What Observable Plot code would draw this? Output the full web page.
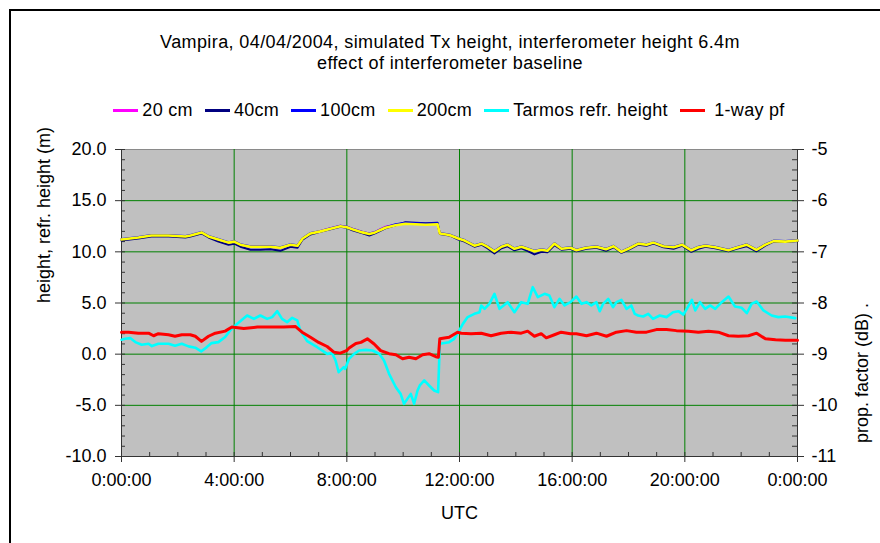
<!DOCTYPE html>
<html><head><meta charset="utf-8">
<script src="https://cdn.jsdelivr.net/npm/d3@7"></script>
<script src="https://cdn.jsdelivr.net/npm/@observablehq/plot@0.6"></script>
<style>
body{margin:0;background:#fff;font-family:"Liberation Sans",Arial,sans-serif;color:#000;}
#wrap{position:relative;width:880px;height:543px;overflow:hidden;background:#fff;}
#frame{position:absolute;left:9px;top:9px;width:950px;height:650px;border-left:2px solid #000;border-top:2px solid #000;}
.title{position:absolute;left:0;width:900px;text-align:center;font-size:18px;line-height:21px;white-space:nowrap;letter-spacing:0.4px;}
#legend{position:absolute;left:0;width:898px;top:99px;display:flex;justify-content:center;font-size:18px;line-height:22px;white-space:pre;letter-spacing:0.3px;}
.item{display:flex;align-items:center;margin:0 6px;}
.sw{width:25px;height:3px;margin-right:4px;}
#chart{position:absolute;left:0;top:130px;}
</style></head>
<body><div id="wrap"><div id="frame"></div>
<div class="title" style="top:32px">Vampira, 04/04/2004, simulated Tx height, interferometer height 6.4m</div>
<div class="title" style="top:53px">effect of interferometer baseline</div>
<div id="legend"></div>
<div id="chart"></div></div>
<script>
// ---- data ----
const seriesNames = ["20 cm", "40cm", "100cm", "200cm", "Tarmos refr. height", " 1-way pf"];
const seriesColors = ["#FF00FF", "#000080", "#0000FF", "#FFFF00", "#00FFFF", "#FF0000"];

// hours (UTC) for the four baseline series
const hBase = [0,0.6,1.06,1.67,2.27,2.45,2.84,3.09,3.44,3.8,4.0,4.22,4.58,4.93,5.29,5.64,6.0,6.25,6.43,6.71,7.06,7.42,7.77,8.0,8.2,8.56,8.8,9.0,9.37,9.73,10.08,10.44,10.8,11.22,11.3,11.64,11.96,12.18,12.53,12.78,12.99,13.24,13.49,13.7,13.95,14.2,14.41,14.66,14.91,15.12,15.37,15.62,15.94,16.15,16.5,16.86,17.2,17.47,17.75,18.03,18.35,18.64,18.89,19.24,19.6,19.9,20.23,20.48,20.73,21.08,21.55,21.83,22.19,22.54,22.86,23.15,23.57,24];
const h20cm = [11.2,11.4,11.6,11.6,11.5,11.6,11.9,11.5,11.2,10.9,11.0,10.7,10.5,10.5,10.5,10.4,10.7,10.6,11.3,11.8,12.05,12.3,12.55,12.45,12.25,11.95,11.8,11.95,12.45,12.65,12.8,12.75,12.7,12.75,11.8,11.65,11.3,11.1,10.6,10.8,10.5,10.05,10.5,10.7,10.3,10.5,10.3,10.05,10.2,10.1,10.8,10.3,10.4,10.15,10.4,10.5,10.25,10.55,10.0,10.35,10.8,10.7,10.9,10.55,10.45,10.7,10.15,10.45,10.6,10.45,10.15,10.4,10.7,10.2,10.7,11.05,11.0,11.1];
const h40cm = [11.1,11.3,11.5,11.5,11.4,11.5,11.8,11.4,11.0,10.7,10.8,10.5,10.2,10.2,10.25,10.1,10.5,10.4,11.2,11.7,11.95,12.2,12.45,12.35,12.1,11.8,11.6,11.8,12.3,12.6,12.9,12.85,12.8,12.85,11.75,11.6,11.2,11.0,10.5,10.7,10.35,9.85,10.35,10.55,10.15,10.35,10.1,9.75,10.0,9.95,10.65,10.2,10.3,10.05,10.3,10.4,10.1,10.45,9.9,10.25,10.7,10.6,10.8,10.45,10.3,10.6,10.0,10.3,10.5,10.35,10.05,10.3,10.55,10.05,10.6,11.0,10.95,11.05];
const h100cm = [11.25,11.45,11.65,11.65,11.55,11.65,11.95,11.55,11.25,10.95,11.05,10.75,10.55,10.55,10.55,10.45,10.75,10.65,11.35,11.85,12.05,12.3,12.55,12.45,12.25,11.95,11.8,11.95,12.4,12.7,12.85,12.8,12.75,12.8,11.85,11.7,11.35,11.15,10.65,10.85,10.55,10.1,10.55,10.75,10.35,10.55,10.35,10.1,10.25,10.15,10.85,10.35,10.45,10.2,10.45,10.55,10.3,10.6,10.05,10.4,10.85,10.75,10.95,10.6,10.5,10.75,10.2,10.5,10.65,10.5,10.2,10.45,10.75,10.25,10.75,11.1,11.05,11.15];
const h200cm = [11.2,11.4,11.6,11.6,11.5,11.6,11.9,11.5,11.2,10.9,11.0,10.7,10.5,10.5,10.5,10.4,10.7,10.6,11.3,11.8,12.0,12.25,12.5,12.4,12.2,11.9,11.75,11.9,12.35,12.6,12.75,12.7,12.65,12.7,11.8,11.65,11.3,11.1,10.6,10.8,10.5,10.05,10.5,10.7,10.3,10.5,10.3,10.05,10.2,10.1,10.8,10.3,10.4,10.15,10.4,10.5,10.25,10.55,10.0,10.35,10.8,10.7,10.9,10.55,10.45,10.7,10.15,10.45,10.6,10.45,10.15,10.4,10.7,10.2,10.7,11.05,11.0,11.1];

// Tarmos refractive height (m)
const hTarmos = [0,0.13,0.31,0.49,0.72,0.96,1.08,1.31,1.67,1.9,2.14,2.38,2.62,2.83,3.03,3.2,3.44,3.68,3.86,3.98,4.11,4.46,4.7,4.93,5.17,5.35,5.53,5.7,5.88,6.06,6.24,6.35,6.59,6.95,7.3,7.48,7.6,7.71,7.89,7.94,8.08,8.26,8.44,8.67,8.91,9.15,9.32,9.5,9.74,9.91,10.03,10.15,10.27,10.39,10.51,10.59,10.75,10.92,11.1,11.24,11.3,11.63,11.81,11.96,12.12,12.29,12.53,12.71,12.77,12.89,13.06,13.24,13.42,13.71,13.95,14.19,14.42,14.6,14.78,15.02,15.19,15.37,15.55,15.73,15.94,16.15,16.33,16.51,16.68,16.86,16.98,17.1,17.28,17.45,17.57,17.75,17.93,18.1,18.22,18.34,18.52,18.7,18.87,19.11,19.35,19.58,19.77,19.95,20.07,20.25,20.37,20.54,20.72,20.9,21.08,21.31,21.55,21.78,22.02,22.2,22.37,22.55,22.79,23.08,23.32,23.56,23.92];
const vTarmos = [1.41,1.5,1.57,1.18,0.92,1.02,0.79,1.02,1.02,0.82,1.02,0.76,0.63,0.27,0.69,1.08,1.18,1.67,2.32,2.64,2.97,3.78,3.45,3.78,3.45,3.62,4.2,3.45,3.13,3.55,3.3,2.31,1.27,0.68,0.03,0.1,-0.62,-1.76,-1.27,-1.43,-0.45,0.03,0.36,0.42,0.36,0.03,-0.62,-1.92,-3.23,-3.88,-4.85,-4.37,-3.88,-4.85,-3.55,-3.06,-2.57,-3.06,-3.55,-3.71,1.01,1.17,1.5,2.15,2.96,3.62,3.94,4.1,4.76,4.43,4.92,5.9,4.43,5.08,4.1,5.08,4.92,6.55,5.57,5.9,5.73,4.59,5.41,4.76,5.08,5.63,4.92,5.08,4.76,5.08,4.2,4.92,5.41,4.59,5.08,5.31,4.43,4.76,3.94,3.78,3.68,3.94,3.45,3.78,3.62,4.1,4.2,3.87,4.43,5.31,4.27,5.08,4.43,4.76,4.43,5.08,5.63,4.66,4.53,4.0,4.92,5.15,4.27,3.78,3.62,3.68,3.52];

// 1-way propagation factor (dB), right axis
const hPf = [0,0.25,0.6,0.96,1.14,1.31,1.67,1.9,2.14,2.44,2.62,2.84,3.09,3.33,3.68,3.92,4.34,4.82,5.29,5.76,6.18,6.41,6.71,7.0,7.3,7.54,7.77,7.99,8.08,8.32,8.5,8.73,8.97,9.2,9.5,9.74,9.98,10.21,10.45,10.69,10.92,11.16,11.25,11.3,11.63,11.93,12.06,12.41,12.77,13.12,13.48,13.83,14.19,14.42,14.66,14.9,15.08,15.37,15.61,15.94,16.15,16.51,16.86,17.22,17.57,17.93,18.28,18.64,18.99,19.35,19.7,20.13,20.48,20.84,21.19,21.55,21.9,22.26,22.55,22.86,23.22,23.57,24];
const vPf = [-8.57,-8.57,-8.59,-8.59,-8.64,-8.6,-8.62,-8.65,-8.62,-8.62,-8.65,-8.75,-8.65,-8.59,-8.55,-8.47,-8.5,-8.47,-8.47,-8.47,-8.46,-8.57,-8.67,-8.77,-8.85,-8.96,-8.98,-8.93,-8.88,-8.79,-8.77,-8.7,-8.8,-8.93,-8.99,-9.01,-9.09,-9.06,-9.09,-9.01,-8.99,-9.05,-9.06,-8.7,-8.67,-8.57,-8.59,-8.6,-8.59,-8.64,-8.59,-8.57,-8.59,-8.55,-8.65,-8.6,-8.68,-8.62,-8.57,-8.6,-8.6,-8.64,-8.59,-8.65,-8.57,-8.54,-8.57,-8.57,-8.52,-8.52,-8.54,-8.55,-8.57,-8.55,-8.57,-8.64,-8.65,-8.64,-8.59,-8.7,-8.72,-8.73,-8.73];

const xTicks = [0, 4, 8, 12, 16, 20, 24];
const yTicks = [-10, -5, 0, 5, 10, 15, 20];
const pfDomain = [-11, -5];
const yDomain = [-10, 20];

// ---- build ----
const leg = document.getElementById("legend");
seriesNames.forEach((n, i) => {
  const it = document.createElement("div"); it.className = "item";
  it.innerHTML = `<span class="sw" style="background:${seriesColors[i]}"></span><span>${n}</span>`;
  leg.appendChild(it);
});

const toLeft = db => yDomain[0] + (db - pfDomain[0]) * (yDomain[1] - yDomain[0]) / (pfDomain[1] - pfDomain[0]);
const toDb = v => pfDomain[0] + (v - yDomain[0]) * (pfDomain[1] - pfDomain[0]) / (yDomain[1] - yDomain[0]);

const base = [h20cm, h40cm, h100cm, h200cm].map(arr => hBase.map((h, i) => ({h, v: arr[i]})));
const tarmos = hTarmos.map((h, i) => ({h, v: vTarmos[i]}));
const pf = hPf.map((h, i) => ({h, v: toLeft(vPf[i])}));

const yMinor = d3.range(yDomain[0], yDomain[1] + 1, 1);
const xMinor = d3.range(0, 25, 1);
const plotW = 880 - 121 - 83, plotH = 413 - 19 - 87;
const font = '"Liberation Sans", Arial, sans-serif';

const chart = Plot.plot({
  width: 880, height: 413,
  marginLeft: 121, marginRight: 83, marginTop: 19, marginBottom: 87,
  x: {domain: [0, 24]},
  y: {domain: yDomain},
  style: {fontFamily: font, fontSize: "18px", color: "#000", background: "transparent", overflow: "visible"},
  marks: [
    Plot.frame({fill: "#C0C0C0", stroke: "#8a8a8a"}),
    Plot.gridX(xTicks.slice(1, -1), {stroke: "#008000", strokeOpacity: 1, strokeWidth: 1}),
    Plot.gridY(yTicks.slice(1, -1), {stroke: "#008000", strokeOpacity: 1, strokeWidth: 1}),
    Plot.ruleY(yMinor, {y: d => d, insetRight: plotW - 4, stroke: "#333"}),
    Plot.ruleY(yMinor, {y: d => d, insetLeft: plotW - 5, stroke: "#333"}),
    Plot.ruleX(xMinor, {x: d => d, insetTop: plotH - 4, stroke: "#333"}),
    Plot.ruleX([0, 24], {stroke: "#333"}),
    Plot.ruleY([yDomain[0]], {stroke: "#333"}),
    Plot.axisY(yTicks, {anchor: "left", tickSize: 6, tickPadding: 9, tickFormat: d => d.toFixed(1), label: null, stroke: "#333"}),
    Plot.axisY(yTicks, {anchor: "right", tickSize: 6, tickPadding: 8, tickFormat: d => String(Math.round(toDb(d))), label: null, stroke: "#333"}),
    Plot.axisX(xTicks, {anchor: "bottom", tickSize: 6, tickPadding: 11, tickFormat: h => `${h % 24}:00:00`, label: null, stroke: "#333"}),
    ...base.map((d, i) => Plot.line(d, {x: "h", y: "v", stroke: seriesColors[i], strokeWidth: i === 3 ? 2.6 : 2})),
    Plot.line(tarmos, {x: "h", y: "v", stroke: seriesColors[4], strokeWidth: 2.6}),
    Plot.line(pf, {x: "h", y: "v", stroke: seriesColors[5], strokeWidth: 3}),
    Plot.text(["height, refr. height (m)"], {frameAnchor: "left", dx: -77, rotate: -90, fontSize: 18}),
    Plot.text(["prop. factor (dB) ."], {frameAnchor: "right", dx: 65, rotate: -90, fontSize: 18}),
    Plot.text(["UTC"], {frameAnchor: "bottom", dy: 62, fontSize: 18})
  ]
});
document.getElementById("chart").appendChild(chart);
</script></body></html>
